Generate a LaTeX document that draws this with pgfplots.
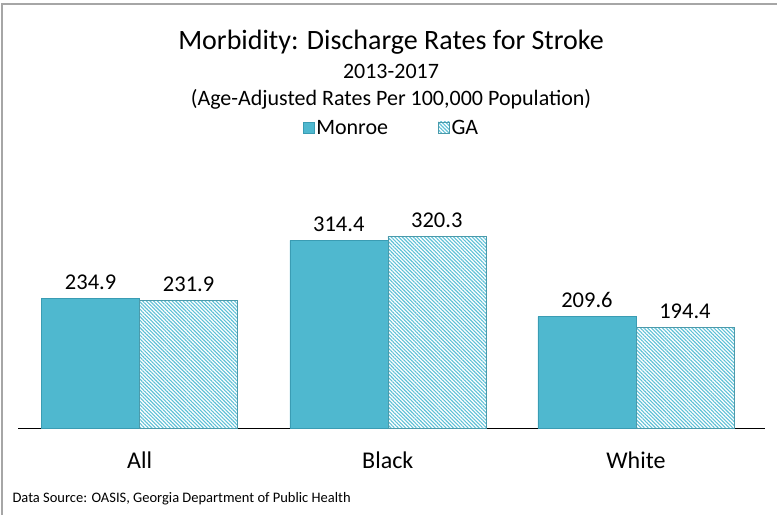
\documentclass[border=0pt]{standalone}
\usepackage{fontspec}
\setmainfont{Carlito}
\usepackage{pgfplots}
\pgfplotsset{compat=1.18}
\usetikzlibrary{patterns.meta}

\definecolor{monroe}{HTML}{4FB8CF}
\definecolor{monroeedge}{HTML}{3A9CB3}
\definecolor{gahatch}{HTML}{5EC0D6}
\definecolor{frame}{HTML}{A6A6A6}
\definecolor{baseline}{HTML}{BFBFBF}

\begin{document}
\begin{tikzpicture}
\useasboundingbox (0pt,0pt) rectangle (777pt,515pt);
% outer frame (only top and left edges are visible in the reference)
\draw[frame, line width=1.2pt] (2pt,0pt) -- (2pt,511pt) -- (777pt,511pt);

\node[anchor=base] at (391pt,465pt) {\fontsize{28}{32}\selectfont Morbidity: Discharge Rates for Stroke};
\node[anchor=base] at (391pt,436pt) {\fontsize{22}{26}\selectfont 2013-2017};
\node[anchor=base] at (391pt,409pt) {\fontsize{22}{26}\selectfont (Age-Adjusted Rates Per 100,000 Population)};
\node[anchor=base west] at (9pt,13pt) {\fontsize{14.5}{17}\selectfont Data Source: OASIS, Georgia Department of Public Health};

\begin{axis}[
    at={(18pt,87pt)}, anchor=south west,
    scale only axis,
    width=747pt, height=278pt,
    xmin=-0.49, xmax=2.52,
    ymin=56, ymax=439,
    ybar=0pt, bar width=98pt,
    axis x line*=bottom,
    axis y line=none,
    x axis line style={baseline, line width=1pt, -},
    xtick={0,1,2},
    xticklabels={All,Black,White},
    major tick length=0pt,
    xticklabel style={font=\fontsize{24}{28}\selectfont, yshift=-20pt},
    ytick=\empty,
    /pgf/number format/assume math mode=true,
    nodes near coords={\pgfmathprintnumber[fixed,precision=1,fixed zerofill]{\pgfplotspointmeta}},
    nodes near coords style={font=\fontsize{22.5}{26}\selectfont, black, yshift=5pt},
    legend style={at={(0.5,1)}, anchor=south, yshift=10pt, draw=none, fill=none,
        legend columns=2, font=\fontsize{22}{26}\selectfont,
        /tikz/every even column/.append style={column sep=48pt}},
    legend image code/.code={\draw[#1] (0pt,-5pt) rectangle (11pt,6pt);},
]
\addplot[fill=monroe, draw=monroeedge]
    coordinates {(0,234.9) (1,314.4) (2,209.6)};
\addplot[draw=gahatch!80!black, line width=0.4pt,
    pattern={Lines[angle=-45,distance=2.6pt,line width=1.1pt]}, pattern color=gahatch]
    coordinates {(0,231.9) (1,320.3) (2,194.4)};
\legend{Monroe,GA}
\end{axis}
\end{tikzpicture}
\end{document}
